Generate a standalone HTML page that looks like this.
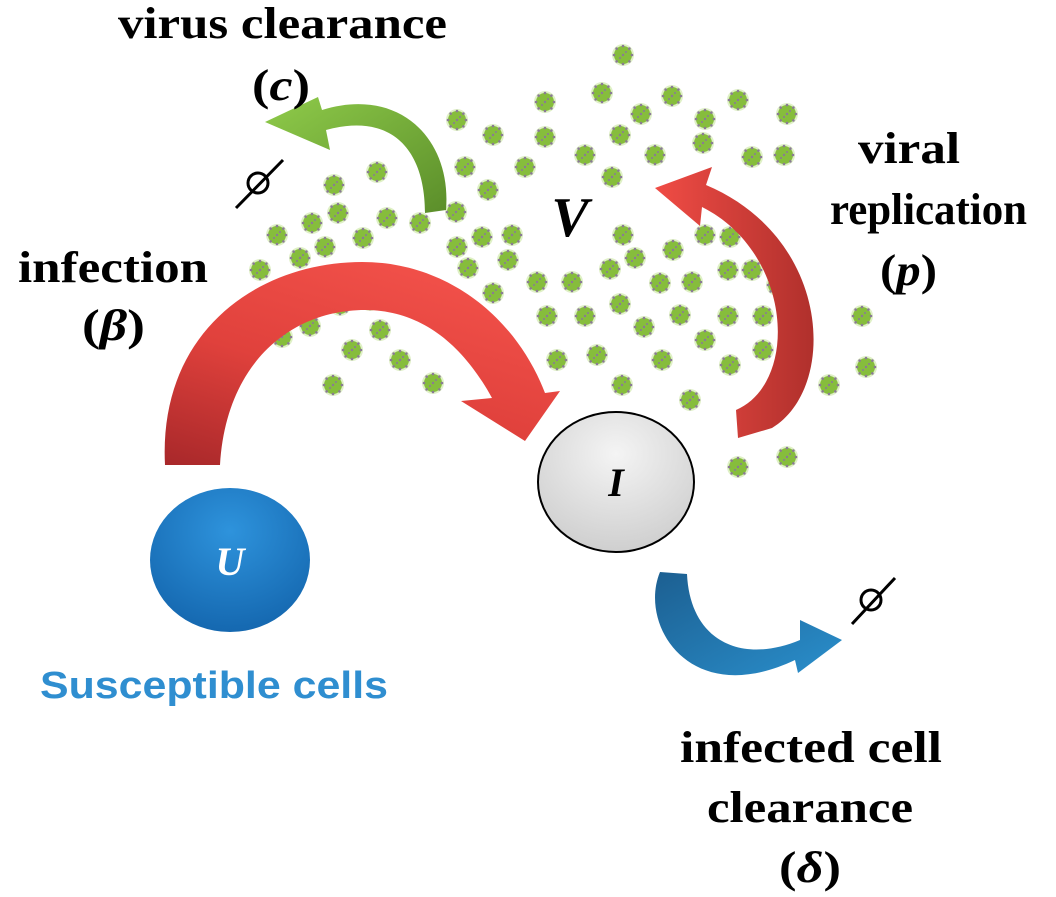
<!DOCTYPE html>
<html><head><meta charset="utf-8"><style>
html,body{margin:0;padding:0;background:#fff;}
svg{display:block}
.t{font-family:"Liberation Serif",serif;font-weight:bold;font-size:44px;fill:#000}
</style></head><body>
<svg width="1056" height="897" viewBox="0 0 1056 897" xmlns="http://www.w3.org/2000/svg">
<defs>
<symbol id="v" viewBox="-12 -12 24 24" overflow="visible">
<circle r="11" fill="#c9e6a0" opacity="0.6"/>
<circle r="9" fill="#86bd3c"/>
<g fill="#8a7a96">
<circle cx="0" cy="-9" r="1.3"/><circle cx="0" cy="9" r="1.3"/><circle cx="-9" cy="0" r="1.3"/><circle cx="9" cy="0" r="1.3"/>
<circle cx="6.4" cy="6.4" r="1.3"/><circle cx="-6.4" cy="6.4" r="1.3"/><circle cx="6.4" cy="-6.4" r="1.3"/><circle cx="-6.4" cy="-6.4" r="1.3"/>
<circle cx="0" cy="0" r="1.2"/><circle cx="3" cy="-3" r="1"/><circle cx="-3" cy="3" r="1"/>
</g>
</symbol>
<linearGradient id="red1" x1="0" y1="1" x2="0.6" y2="0"><stop offset="0" stop-color="#a8282a"/><stop offset="0.5" stop-color="#e0413c"/><stop offset="1" stop-color="#f15049"/></linearGradient>
<linearGradient id="red2" x1="0" y1="0" x2="1" y2="0"><stop offset="0" stop-color="#f04c45"/><stop offset="1" stop-color="#b0302c"/></linearGradient>
<linearGradient id="grn" x1="0" y1="0" x2="1" y2="1"><stop offset="0" stop-color="#8fcb4a"/><stop offset="1" stop-color="#5b8e2a"/></linearGradient>
<linearGradient id="blu" x1="0" y1="0" x2="1" y2="1"><stop offset="0" stop-color="#1c5f91"/><stop offset="1" stop-color="#2a8fcc"/></linearGradient>
<radialGradient id="ub" cx="0.5" cy="0.3" r="0.7"><stop offset="0" stop-color="#2e93dc"/><stop offset="1" stop-color="#1568b0"/></radialGradient>
<radialGradient id="ig" cx="0.5" cy="0.3" r="0.7"><stop offset="0" stop-color="#f4f4f4"/><stop offset="1" stop-color="#cfcfcf"/></radialGradient>
</defs>

<g>
<use href="#v" x="611" y="43" width="24" height="24"/>
<use href="#v" x="533" y="90" width="24" height="24"/><use href="#v" x="590" y="81" width="24" height="24"/><use href="#v" x="660" y="84" width="24" height="24"/>
<use href="#v" x="726" y="88" width="24" height="24"/><use href="#v" x="775" y="102" width="24" height="24"/><use href="#v" x="629" y="102" width="24" height="24"/>
<use href="#v" x="693" y="107" width="24" height="24"/><use href="#v" x="533" y="125" width="24" height="24"/><use href="#v" x="608" y="123" width="24" height="24"/>
<use href="#v" x="691" y="131" width="24" height="24"/><use href="#v" x="573" y="143" width="24" height="24"/><use href="#v" x="643" y="143" width="24" height="24"/>
<use href="#v" x="740" y="145" width="24" height="24"/><use href="#v" x="772" y="143" width="24" height="24"/><use href="#v" x="513" y="155" width="24" height="24"/>
<use href="#v" x="600" y="165" width="24" height="24"/><use href="#v" x="500" y="223" width="24" height="24"/><use href="#v" x="496" y="248" width="24" height="24"/>
<use href="#v" x="611" y="223" width="24" height="24"/><use href="#v" x="623" y="246" width="24" height="24"/><use href="#v" x="598" y="257" width="24" height="24"/>
<use href="#v" x="661" y="238" width="24" height="24"/><use href="#v" x="693" y="223" width="24" height="24"/><use href="#v" x="718" y="225" width="24" height="24"/>
<use href="#v" x="525" y="270" width="24" height="24"/><use href="#v" x="560" y="270" width="24" height="24"/><use href="#v" x="648" y="271" width="24" height="24"/>
<use href="#v" x="680" y="270" width="24" height="24"/><use href="#v" x="716" y="258" width="24" height="24"/><use href="#v" x="740" y="258" width="24" height="24"/>
<use href="#v" x="765" y="273" width="24" height="24"/><use href="#v" x="535" y="304" width="24" height="24"/><use href="#v" x="573" y="304" width="24" height="24"/>
<use href="#v" x="608" y="292" width="24" height="24"/><use href="#v" x="632" y="315" width="24" height="24"/><use href="#v" x="668" y="303" width="24" height="24"/>
<use href="#v" x="716" y="304" width="24" height="24"/><use href="#v" x="751" y="304" width="24" height="24"/><use href="#v" x="693" y="328" width="24" height="24"/>
<use href="#v" x="751" y="338" width="24" height="24"/><use href="#v" x="545" y="348" width="24" height="24"/><use href="#v" x="585" y="343" width="24" height="24"/>
<use href="#v" x="650" y="348" width="24" height="24"/><use href="#v" x="718" y="353" width="24" height="24"/><use href="#v" x="610" y="373" width="24" height="24"/>
<use href="#v" x="678" y="388" width="24" height="24"/><use href="#v" x="850" y="304" width="24" height="24"/><use href="#v" x="854" y="355" width="24" height="24"/>
<use href="#v" x="817" y="373" width="24" height="24"/><use href="#v" x="726" y="455" width="24" height="24"/><use href="#v" x="775" y="445" width="24" height="24"/>
<use href="#v" x="445" y="108" width="24" height="24"/><use href="#v" x="481" y="123" width="24" height="24"/><use href="#v" x="453" y="155" width="24" height="24"/>
<use href="#v" x="476" y="178" width="24" height="24"/><use href="#v" x="365" y="160" width="24" height="24"/><use href="#v" x="322" y="173" width="24" height="24"/>
<use href="#v" x="444" y="200" width="24" height="24"/><use href="#v" x="326" y="201" width="24" height="24"/><use href="#v" x="375" y="206" width="24" height="24"/>
<use href="#v" x="408" y="211" width="24" height="24"/><use href="#v" x="300" y="211" width="24" height="24"/><use href="#v" x="265" y="223" width="24" height="24"/>
<use href="#v" x="313" y="235" width="24" height="24"/><use href="#v" x="351" y="226" width="24" height="24"/><use href="#v" x="445" y="235" width="24" height="24"/>
<use href="#v" x="470" y="225" width="24" height="24"/><use href="#v" x="288" y="246" width="24" height="24"/><use href="#v" x="248" y="258" width="24" height="24"/>
<use href="#v" x="456" y="256" width="24" height="24"/><use href="#v" x="481" y="281" width="24" height="24"/>
<use href="#v" x="288" y="278" width="24" height="24"/><use href="#v" x="328" y="293" width="24" height="24"/><use href="#v" x="270" y="325" width="24" height="24"/>
<use href="#v" x="298" y="314" width="24" height="24"/><use href="#v" x="340" y="338" width="24" height="24"/><use href="#v" x="368" y="318" width="24" height="24"/>
<use href="#v" x="388" y="348" width="24" height="24"/><use href="#v" x="421" y="371" width="24" height="24"/><use href="#v" x="321" y="373" width="24" height="24"/>
<use href="#v" x="358" y="288" width="24" height="24"/>
</g>

<path d="M165,465 C158,330 260,262 362,262 C445,262 515,315 545,393 L560,391 L525,441 L461,401 L492,398 C462,343 420,310 365,310 C292,310 226,362 220,465 Z" fill="url(#red1)"/>
<path d="M738,438 L772,428 C838,388 832,238 706,185 L712,167 L655,188 L700,226 L702,207 C792,252 800,382 736,410 Z" fill="url(#red2)"/>
<path d="M425,213 L446,210 C452,138 398,86 322,110 L318,97 L265,122 L330,150 L326,130 C392,112 425,150 425,213 Z" fill="url(#grn)"/>
<path d="M660,572 C638,625 690,710 795,660 L798,673 L842,640 L800,620 L800,640 C740,665 690,640 687,574 Z" fill="url(#blu)"/>

<ellipse cx="230" cy="560" rx="80" ry="72" fill="url(#ub)"/>
<text x="230" y="575" font-family="Liberation Serif,serif" font-weight="bold" font-style="italic" font-size="40" fill="#fff" text-anchor="middle">U</text>
<ellipse cx="616" cy="482" rx="78" ry="70" fill="url(#ig)" stroke="#000" stroke-width="2"/>
<text x="616" y="496" font-family="Liberation Serif,serif" font-weight="bold" font-style="italic" font-size="40" fill="#000" text-anchor="middle">I</text>

<text x="570" y="236" font-family="Liberation Serif,serif" font-weight="bold" font-style="italic" font-size="56" fill="#000" text-anchor="middle">V</text>

<g stroke="#000" stroke-width="3" fill="none">
<circle cx="258" cy="183" r="10"/><line x1="236" y1="208" x2="283" y2="160"/>
<circle cx="871" cy="600" r="10"/><line x1="852" y1="624" x2="895" y2="578"/>
</g>

<text class="t" x="118" y="38" textLength="329" lengthAdjust="spacingAndGlyphs">virus clearance</text>
<text class="t" x="252" y="100" textLength="58" lengthAdjust="spacingAndGlyphs">(<tspan font-style="italic">c</tspan>)</text>
<text class="t" x="18" y="282" textLength="190" lengthAdjust="spacingAndGlyphs">infection</text>
<text class="t" x="82" y="340" textLength="63" lengthAdjust="spacingAndGlyphs">(<tspan font-style="italic">β</tspan>)</text>
<text class="t" x="858" y="163" textLength="102" lengthAdjust="spacingAndGlyphs">viral</text>
<text class="t" x="830" y="224" textLength="197" lengthAdjust="spacingAndGlyphs">replication</text>
<text class="t" x="880" y="285" textLength="57" lengthAdjust="spacingAndGlyphs">(<tspan font-style="italic">p</tspan>)</text>
<text class="t" x="680" y="762" textLength="262" lengthAdjust="spacingAndGlyphs">infected cell</text>
<text class="t" x="707" y="822" textLength="206" lengthAdjust="spacingAndGlyphs">clearance</text>
<text class="t" x="779" y="882" textLength="62" lengthAdjust="spacingAndGlyphs">(<tspan font-style="italic">δ</tspan>)</text>
<text x="40" y="698" font-family="Liberation Sans,sans-serif" font-weight="bold" font-size="38" fill="#2f8ed0" textLength="348" lengthAdjust="spacingAndGlyphs">Susceptible cells</text>
</svg>
</body></html>
